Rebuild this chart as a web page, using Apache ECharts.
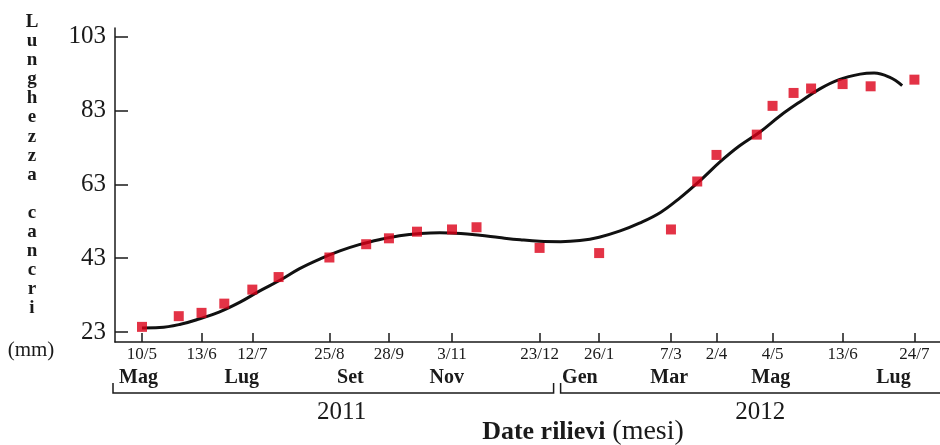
<!DOCTYPE html>
<html>
<head>
<meta charset="utf-8">
<script src="https://cdn.jsdelivr.net/npm/echarts@6/dist/echarts.min.js"></script>
<style>
  html, body { margin: 0; padding: 0; background: #fff; }
  #chart { width: 940px; height: 445px; }
</style>
</head>
<body>
<div id="chart"></div>
<script>
// Survey dates and measured canker length (mm)
const sampleDates = [
  '2011-05-10', '2011-05-31', '2011-06-13', '2011-06-26', '2011-07-12', '2011-07-27',
  '2011-08-25', '2011-09-15', '2011-09-28', '2011-10-14', '2011-11-03', '2011-11-17',
  '2011-12-23', '2012-01-26', '2012-03-07', '2012-03-22', '2012-04-02', '2012-04-25',
  '2012-05-04', '2012-05-16', '2012-05-26', '2012-06-13', '2012-06-29', '2012-07-24'
];
const lengths = [
  24.4, 27.3, 28.2, 30.7, 34.5, 37.9,
  43.2, 46.8, 48.4, 50.2, 50.8, 51.4,
  45.8, 44.4, 50.8, 63.8, 71.0, 76.5,
  84.3, 87.8, 89.0, 90.2, 89.6, 91.4
];

// Fitted growth curve
const fitDates = [
  '2011-05-10', '2011-05-20', '2011-06-01', '2011-06-12', '2011-06-23', '2011-07-05',
  '2011-07-16', '2011-07-28', '2011-08-08', '2011-08-20', '2011-08-31', '2011-09-11',
  '2011-09-23', '2011-10-04', '2011-10-16', '2011-10-27', '2011-11-08', '2011-11-19',
  '2011-11-30', '2011-12-12', '2011-12-23', '2012-01-04', '2012-01-15', '2012-01-26',
  '2012-02-07', '2012-02-18', '2012-03-01', '2012-03-12', '2012-03-24', '2012-04-04',
  '2012-04-15', '2012-04-27', '2012-05-08', '2012-05-20', '2012-05-31', '2012-06-11',
  '2012-06-23', '2012-07-01', '2012-07-10', '2012-07-17'
];
const fitValues = [
  24.1, 24.2, 25.1, 26.6, 28.4, 31.1,
  34.1, 37.1, 40.2, 42.9, 45.0, 46.7,
  48.1, 49.1, 49.7, 49.9, 49.7, 49.2,
  48.6, 48.0, 47.6, 47.5, 47.8, 48.7,
  50.4, 52.5, 55.4, 59.3, 64.2, 69.1,
  73.4, 77.3, 81.5, 85.5, 88.9, 91.4,
  92.9, 93.2, 92.0, 89.8
];

// Labelled survey dates on the time axis
const tickDates = [
  '2011-05-10', '2011-06-13', '2011-07-12', '2011-08-25', '2011-09-28', '2011-11-03',
  '2011-12-23', '2012-01-26', '2012-03-07', '2012-04-02', '2012-05-04', '2012-06-13',
  '2012-07-24'
];
const tickLabels = ['10/5', '13/6', '12/7', '25/8', '28/9', '3/11', '23/12', '26/1', '7/3', '2/4', '4/5', '13/6', '24/7'];

// Month names
const monthDates = ['2011-05-08', '2011-07-06', '2011-09-06', '2011-10-31', '2012-01-15', '2012-03-06', '2012-05-03', '2012-07-12'];
const monthLabels = ['Mag', 'Lug', 'Set', 'Nov', 'Gen', 'Mar', 'Mag', 'Lug'];

// Years
const yearDates = ['2011-09-01', '2012-04-27'];
const yearLabels = ['2011', '2012'];

// Length axis ticks
const yTicks = [23, 43, 63, 83, 103];

const DAY = 86400000;
function ts(s) {
  const p = s.split('-').map(Number);
  return new Date(p[0], p[1] - 1, p[2]).getTime();
}
function lookup(dates, labels) {
  const t = dates.map(ts);
  return function (v) {
    for (let i = 0; i < t.length; i++) {
      if (Math.abs(t[i] - v) < 3 * 3600000) return labels[i];
    }
    return '';
  };
}

const SERIF = '"Liberation Serif", "Times New Roman", serif';
const INK = '#1a1a1a';
const origin = ts('2011-05-10');
const xMin = origin - 15.4 * DAY;
const xMax = origin + 455.6 * DAY;

const chart = echarts.init(document.getElementById('chart'), null, { renderer: 'canvas' });

function bottomAxis(offset, values, labels, font, margin, withLine) {
  return {
    type: 'value',
    position: 'bottom',
    offset: offset,
    min: xMin,
    max: xMax,
    splitLine: { show: false },
    axisLine: { show: withLine, onZero: false, lineStyle: { color: INK, width: 1.5 } },
    axisTick: withLine
      ? { show: true, inside: true, length: 9, lineStyle: { color: INK, width: 1.5 }, customValues: values.map(ts) }
      : { show: false },
    axisLabel: Object.assign({
      customValues: values.map(ts),
      formatter: lookup(values, labels),
      margin: margin,
      color: INK,
      fontFamily: SERIF
    }, font)
  };
}

chart.setOption({
  animation: false,
  backgroundColor: '#fff',
  grid: { left: 115, right: 0, top: 28, bottom: 103, containLabel: false },
  xAxis: [
    bottomAxis(0, tickDates, tickLabels, { fontSize: 17 }, 4, true),
    bottomAxis(24, monthDates, monthLabels, { fontSize: 20, fontWeight: 'bold' }, 2, false),
    bottomAxis(56, yearDates, yearLabels, { fontSize: 25 }, 2, false)
  ],
  yAxis: {
    type: 'value',
    min: 20.3,
    max: 105.4,
    splitLine: { show: false },
    axisLine: { show: true, onZero: false, lineStyle: { color: INK, width: 1.5 } },
    axisTick: { show: true, inside: true, length: 13, lineStyle: { color: INK, width: 1.5 }, customValues: yTicks },
    axisLabel: { customValues: yTicks, margin: 9, fontSize: 25, fontFamily: SERIF, color: INK }
  },
  series: [
    {
      type: 'line',
      xAxisIndex: 0,
      data: fitDates.map((d, i) => [ts(d), fitValues[i]]),
      smooth: 0.4,
      symbol: 'none',
      lineStyle: { color: '#111', width: 3 },
      z: 2
    },
    {
      type: 'scatter',
      xAxisIndex: 0,
      data: sampleDates.map((d, i) => [ts(d), lengths[i]]),
      symbol: 'rect',
      symbolSize: 10,
      itemStyle: { color: '#dc0018' },
      z: 3
    }
  ]
});

const px = d => chart.convertToPixel({ xAxisIndex: 0 }, ts(d));
const end2011 = px('2011-12-31');
const start2012 = px('2012-01-04');

chart.setOption({
  graphic: [
    {
      type: 'text',
      x: 32, y: 12.5,
      style: {
        text: 'Lunghezza cancri'.split('').join('\n'),
        fontFamily: SERIF, fontWeight: 'bold', fontSize: 19, lineHeight: 19.1,
        fill: INK, align: 'center', verticalAlign: 'top'
      }
    },
    {
      type: 'text',
      x: 31, y: 350,
      style: { text: '(mm)', fontFamily: SERIF, fontSize: 21, fill: INK, align: 'center', verticalAlign: 'middle' }
    },
    {
      type: 'polyline',
      shape: { points: [[113, 383], [113, 393], [end2011, 393], [end2011, 383]] },
      style: { stroke: INK, lineWidth: 1.5, fill: null }
    },
    {
      type: 'polyline',
      shape: { points: [[start2012, 383], [start2012, 393], [940, 393]] },
      style: { stroke: INK, lineWidth: 1.5, fill: null }
    },
    {
      type: 'text',
      x: 583, y: 432,
      style: {
        text: '{b|Date rilievi} {r|(mesi)}',
        align: 'center', verticalAlign: 'middle',
        rich: {
          b: { fontFamily: SERIF, fontWeight: 'bold', fontSize: 26, fill: INK },
          r: { fontFamily: SERIF, fontSize: 28, fill: INK }
        },
        fontFamily: SERIF, fontSize: 27, fill: INK
      }
    }
  ]
});
</script>
</body>
</html>
